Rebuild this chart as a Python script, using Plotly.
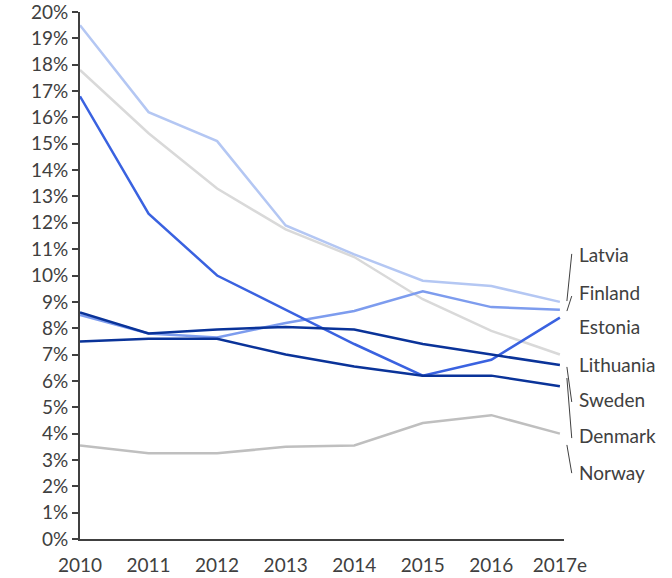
import plotly.graph_objects as go

# ==================== DATA ====================
years = ['2010', '2011', '2012', '2013', '2014', '2015', '2016', '2017e']

latvia    = [19.5, 16.2, 15.1, 11.9, 10.8, 9.8, 9.6, 9.0]
finland   = [8.5, 7.8, 7.65, 8.2, 8.65, 9.4, 8.8, 8.7]
estonia   = [16.8, 12.35, 10.0, 8.7, 7.4, 6.2, 6.8, 8.4]
lithuania = [17.8, 15.4, 13.3, 11.75, 10.7, 9.1, 7.9, 7.0]
sweden    = [8.6, 7.8, 7.95, 8.05, 7.95, 7.4, 7.0, 6.6]
denmark   = [7.5, 7.6, 7.6, 7.0, 6.55, 6.2, 6.2, 5.8]
norway    = [3.55, 3.25, 3.25, 3.5, 3.55, 4.4, 4.7, 4.0]

y_ticks = list(range(0, 21))
y_tick_labels = [f'{v}%' for v in y_ticks]

FONT = 'Lato'
TEXT = '#404040'
Y_MAX = 20

# (name, values, colour) in draw order
series = [
  ('Norway',    norway,    '#bfbfbf'),
  ('Lithuania', lithuania, '#d9d9d9'),
  ('Latvia',    latvia,    '#b4c7f3'),
  ('Finland',   finland,   '#7d9cee'),
  ('Estonia',   estonia,   '#3a62e0'),
  ('Denmark',   denmark,   '#0a3399'),
  ('Sweden',    sweden,    '#0a3399'),
]

# ── end labels: (name, label y, leader start y, leader end y), in % units ──
end_labels = [
  ('Latvia',    10.78, 9.03, 10.82),
  ('Finland',   9.37,  8.65, 9.22),
  ('Estonia',   8.05,  None, None),
  ('Lithuania', 6.64,  None, None),
  ('Sweden',    5.28,  6.53, 5.2),
  ('Denmark',   3.91,  6.11, 3.83),
  ('Norway',    2.54,  3.57, 2.5),
]

fig = go.Figure()
for name, vals, color in series:
  fig.add_trace(go.Scatter(
    x=list(range(len(years))), y=vals, name=name, mode='lines',
    line=dict(color=color, width=2.5),
    showlegend=False,
  ))

# labels sit right of the plot area, so use paper coords (not clipped)
for name, ly, y0, y1 in end_labels:
  fig.add_annotation(
    x=1.027, y=ly / Y_MAX, xref='paper', yref='paper', text=name,
    showarrow=False, xanchor='left', yanchor='middle',
    font=dict(family=FONT, size=19, color=TEXT),
  )
  if y0 is not None:
    fig.add_shape(
      type='line', xref='paper', yref='paper',
      x0=1.006, y0=y0 / Y_MAX, x1=1.016, y1=y1 / Y_MAX,
      line=dict(color=TEXT, width=1),
    )

fig.update_layout(
  width=672, height=578,
  margin=dict(l=80, r=108, t=12, b=39),
  plot_bgcolor='white', paper_bgcolor='white',
  font=dict(family=FONT, size=19, color=TEXT),
  xaxis=dict(
    range=[0, 7.06], automargin=False,
    tickmode='array', tickvals=list(range(len(years))), ticktext=years,
    showgrid=False, zeroline=False,
    showline=True, linecolor=TEXT, linewidth=2,
    ticks='', ticklabelstandoff=8,
  ),
  yaxis=dict(
    range=[0, Y_MAX], automargin=False,
    tickmode='array', tickvals=y_ticks, ticktext=y_tick_labels,
    showgrid=False, zeroline=False,
    showline=True, linecolor=TEXT, linewidth=2,
    ticks='outside', ticklen=6, tickwidth=2, tickcolor=TEXT,
    ticklabeloverflow='allow',
  ),
)

# drop the default 8px body margin so the figure fills the window exactly
fig.write_html(
  'out.html',
  config={'displayModeBar': False},
  post_script="document.body.style.margin='0';",
)
